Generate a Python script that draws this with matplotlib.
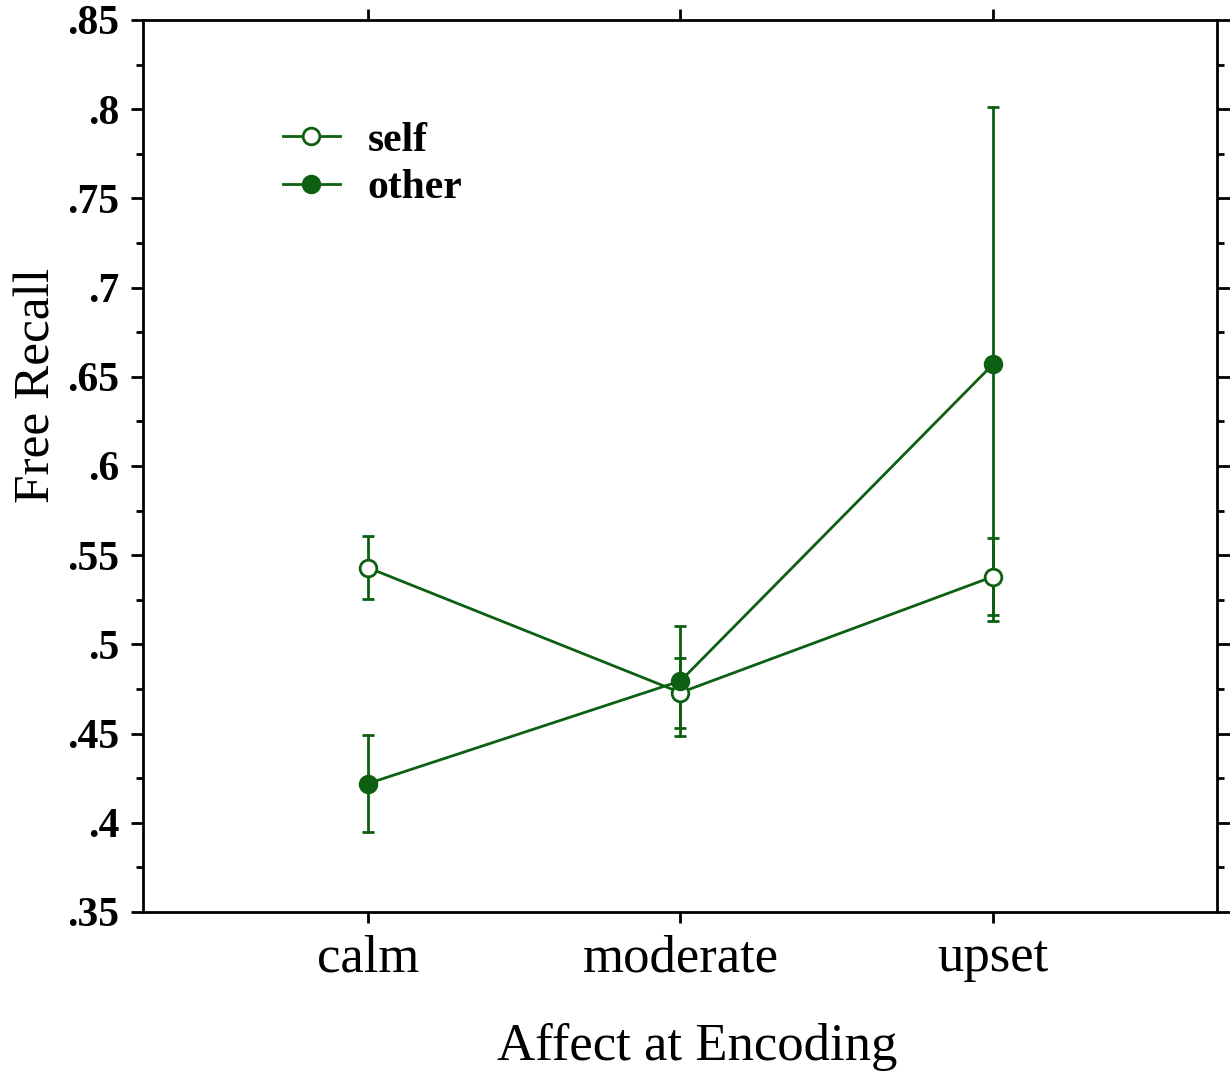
import numpy as np
import matplotlib
matplotlib.use("Agg")
import matplotlib.pyplot as plt
from matplotlib.ticker import MultipleLocator, FuncFormatter
from matplotlib.lines import Line2D

categories = ["calm", "moderate", "upset"]
self_mean = [0.543, 0.473, 0.538]
self_err = [0.0175, 0.0196, 0.0217]
other_mean = [0.422, 0.4795, 0.657]
other_err = [0.027, 0.031, 0.144]

green = "#0d5f12"

plt.rcParams["font.family"] = ["Liberation Serif", "DejaVu Serif"]

fig = plt.figure(figsize=(12.3, 10.83), dpi=100)
ax = fig.add_axes([143 / 1230, 1 - 912 / 1083, (1217 - 143) / 1230, (912 - 20) / 1083])

x = np.arange(len(categories))
ax.errorbar(x, self_mean, yerr=self_err, color=green, lw=2, marker="o", ms=12,
            mfc="white", mec=green, mew=2, capsize=4, capthick=2, elinewidth=2,
            zorder=3)
ax.errorbar(x, other_mean, yerr=other_err, color=green, lw=2, marker="o", ms=12,
            mfc=green, mec=green, mew=2, capsize=4, capthick=2, elinewidth=2,
            zorder=3)

ax.set_xlim(-0.72, 2.717)
ax.set_ylim(0.35, 0.85)
ax.set_xticks(x)
ax.set_xticklabels(categories, fontsize=38)
ax.yaxis.set_major_locator(MultipleLocator(0.05))
ax.yaxis.set_minor_locator(MultipleLocator(0.025))
ax.yaxis.set_major_formatter(FuncFormatter(lambda v, p: ("%.2f" % v).lstrip("0").rstrip("0")))
for lab in ax.get_yticklabels():
    lab.set_fontweight("bold")
    lab.set_fontsize(30)

ax.tick_params(axis="y", which="major", direction="out", length=9, width=2, right=True, pad=8)
ax.tick_params(axis="y", which="minor", direction="out", length=5, width=2, right=True)
ax.tick_params(axis="x", which="major", direction="out", length=8, width=2, top=True, pad=8)
for s in ax.spines.values():
    s.set_linewidth(2)

ax.set_xlabel("Affect at Encoding", fontsize=38)
ax.xaxis.set_label_coords(0.516, -0.124)
ax.set_ylabel("Free Recall", fontsize=37)
ax.yaxis.set_label_coords(-0.077, 0.59)

handles = [
    Line2D([], [], color=green, lw=2, marker="o", ms=12, mfc="white", mec=green, mew=2),
    Line2D([], [], color=green, lw=2, marker="o", ms=12, mfc=green, mec=green, mew=2),
]
ax.legend(handles, ["self", "other"], loc="upper left", bbox_to_anchor=(0.130, 0.886),
          frameon=False, prop={"weight": "bold", "size": 30}, handlelength=1.37,
          handletextpad=0.67, labelspacing=0.22, borderaxespad=0, borderpad=0)

fig.savefig("out.png", dpi=100)
